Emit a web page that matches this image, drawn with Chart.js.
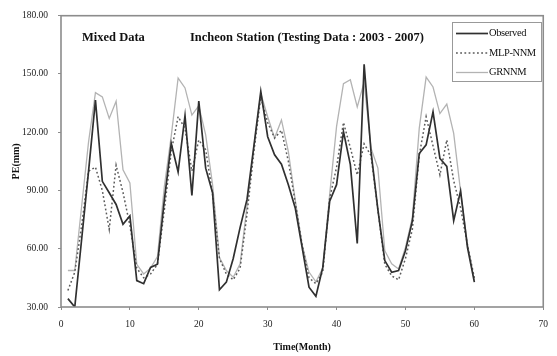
<!DOCTYPE html>
<html>
<head>
<meta charset="utf-8">
<script src="https://cdn.jsdelivr.net/npm/chart.js@4.4.0/dist/chart.umd.min.js"></script>
<style>
  html, body { margin: 0; padding: 0; background: #fff; }
  #wrap { width: 557px; height: 356px; }
</style>
</head>
<body>
<div id="wrap"><canvas id="peChart"></canvas></div>
<script>
// months of the testing period (2003 - 2007)
const months = [1, 2, 3, 4, 5, 6, 7, 8, 9, 10, 11, 12, 13, 14, 15, 16, 17, 18, 19, 20,
  21, 22, 23, 24, 25, 26, 27, 28, 29, 30, 31, 32, 33, 34, 35, 36, 37, 38, 39, 40,
  41, 42, 43, 44, 45, 46, 47, 48, 49, 50, 51, 52, 53, 54, 55, 56, 57, 58, 59, 60];

const observed = [34.3, 30, 65, 100, 136.5, 94.7, 88.8, 82.8, 72.6, 76.9,
  43.6, 42, 50.4, 52, 85, 114.3, 99.5, 128.5, 87.4, 136,
  101.5, 88.8, 38.9, 42.8, 55, 71, 85.4, 113, 141, 117.7,
  108.4, 103.5, 93, 81, 60.7, 40.2, 35.5, 50.4, 84.5, 93,
  120.3, 103.3, 62.7, 155, 110, 80, 53.9, 47.9, 48.8, 59,
  74.3, 109, 113.5, 130.5, 106.5, 102.4, 74.5, 89.8, 60.7, 42.8];

const mlpNnm = [38.5, 47.9, 72, 100, 102, 90, 70, 103, 89, 72,
  50, 45, 47, 52, 80, 110, 128, 122, 100, 116,
  111, 88, 55, 47, 44, 50, 78, 110, 138, 125,
  117, 121, 105, 84, 62, 45, 42, 48, 86, 102,
  125, 112, 98, 114, 108, 80, 52, 46, 44, 55,
  70, 108, 128, 113, 98, 116, 95, 81, 62, 45];

const grnnm = [48.8, 48.8, 82, 115, 140.4, 138.2, 127.1, 136, 100.7, 93.9,
  52, 47, 50, 56, 92, 118, 147.9, 142.8, 128.8, 133.6,
  118.6, 93, 55.5, 48.8, 45.3, 52.2, 82, 112, 140, 128,
  117, 126.3, 110, 85, 62, 48, 43, 50, 88, 123,
  145, 147, 133, 145.8, 111.8, 101.5, 59, 52.2, 49.6, 60.7,
  76, 122, 148.4, 143.3, 129.6, 134.5, 119.4, 89.6, 62.4, 43.6];

const xTicks = [0, 10, 20, 30, 40, 50, 60, 70];
const yTicks = [30, 60, 90, 120, 150, 180];

const serif = '"Liberation Serif", "Times New Roman", serif';

function toPoints(values) {
  return months.map((m, i) => ({ x: m, y: values[i] }));
}

// frame, titles and legend box
const decorations = {
  id: 'decorations',
  afterDraw(chart) {
    const ctx = chart.ctx;
    const a = chart.chartArea;
    ctx.save();
    ctx.strokeStyle = '#8c8c8c';
    ctx.lineWidth = 1.6;
    ctx.strokeRect(a.left, a.top, a.right - a.left, a.bottom - a.top);

    ctx.fillStyle = '#111';
    ctx.textBaseline = 'middle';
    ctx.font = 'bold 12.5px ' + serif;
    ctx.fillText('Mixed Data', 82, 37.5);
    ctx.fillText('Incheon Station (Testing Data : 2003 - 2007)', 190, 37.5);

    // legend
    ctx.fillStyle = '#fff';
    ctx.fillRect(452, 22, 90, 60);
    ctx.strokeStyle = '#999';
    ctx.lineWidth = 1;
    ctx.strokeRect(452.5, 22.5, 89, 59);
    const rows = [33.5, 53, 72.5];
    chart.data.datasets.forEach((ds, i) => {
      ctx.beginPath();
      ctx.strokeStyle = ds.borderColor;
      ctx.lineWidth = ds.borderWidth;
      ctx.setLineDash(ds.borderDash || []);
      ctx.moveTo(456, rows[i]);
      ctx.lineTo(488, rows[i]);
      ctx.stroke();
      ctx.setLineDash([]);
      ctx.fillStyle = '#111';
      ctx.font = '10.5px ' + serif;
      ctx.letterSpacing = '-0.4px';
      ctx.fillText(ds.label, 489, rows[i]);
      ctx.letterSpacing = '0px';
    });
    ctx.restore();
  }
};

const ctx = document.getElementById('peChart').getContext('2d');
const peChart = new Chart(ctx, {
  type: 'line',
  data: {
    datasets: [{
      label: 'Observed',
      data: toPoints(observed),
      borderColor: '#303030',
      borderWidth: 1.7,
      pointRadius: 0,
      tension: 0
    }, {
      label: 'MLP-NNM',
      data: toPoints(mlpNnm),
      borderColor: '#5a5a5a',
      borderWidth: 1.5,
      borderDash: [1.8, 2.4],
      pointRadius: 0,
      tension: 0
    }, {
      label: 'GRNNM',
      data: toPoints(grnnm),
      borderColor: '#b3b3b3',
      borderWidth: 1.3,
      pointRadius: 0,
      tension: 0
    }]
  },
  options: {
    responsive: true,
    maintainAspectRatio: false,
    animation: false,
    layout: { padding: { top: 13, right: 5, left: 0, bottom: 0 } },
    plugins: {
      legend: { display: false },
      tooltip: { enabled: false }
    },
    scales: {
      x: {
        type: 'linear',
        min: 0,
        max: 70,
        afterBuildTicks: scale => { scale.ticks = xTicks.map(v => ({ value: v })); },
        afterFit: scale => { scale.height = 49; },
        ticks: { color: '#222', font: { family: serif, size: 9.5 }, padding: 9, maxRotation: 0 },
        grid: { drawOnChartArea: false, tickLength: 3, color: '#8c8c8c' },
        border: { display: false },
        title: {
          display: true,
          text: 'Time(Month)',
          color: '#111',
          font: { family: serif, size: 10, weight: 'bold' },
          padding: { top: 0, bottom: 3 }
        }
      },
      y: {
        min: 30,
        max: 180,
        afterBuildTicks: scale => { scale.ticks = yTicks.map(v => ({ value: v })); },
        afterFit: scale => { scale.width = 61; },
        ticks: {
          color: '#222',
          font: { family: serif, size: 9.5 },
          padding: 10,
          callback: v => v.toFixed(2)
        },
        grid: { drawOnChartArea: false, tickLength: 3, color: '#8c8c8c' },
        border: { display: false },
        title: {
          display: true,
          text: 'PE(mm)',
          color: '#111',
          font: { family: serif, size: 10, weight: 'bold' },
          padding: { top: 10, bottom: 0 }
        }
      }
    }
  },
  plugins: [decorations]
});
</script>
</body>
</html>
